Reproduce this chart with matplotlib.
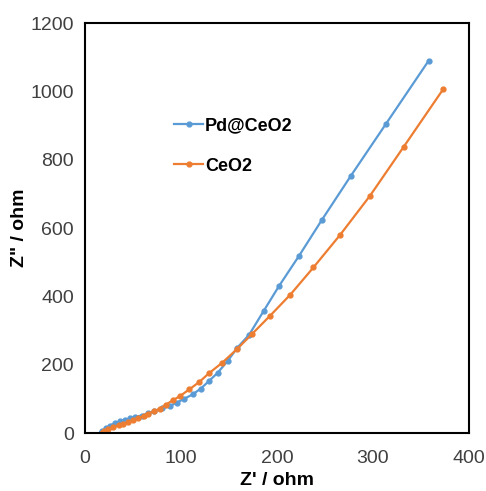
import matplotlib
matplotlib.use("Agg")
import matplotlib.pyplot as plt

plt.rcParams['font.family'] = ['Liberation Sans', 'DejaVu Sans']

# Nyquist data
pd_x = [17, 18, 22, 26, 31, 36.5, 41.7, 47, 52, 59, 66, 72, 80, 88, 95.5, 103.5,
        112, 120.5, 129, 138, 148.6, 158.7, 171, 186, 202, 223, 247, 276.7, 313.5, 358]
pd_y = [0, 5, 15, 22, 29, 34, 39, 43, 48, 51, 58.6, 63.5, 72, 79, 89, 100.6,
        113, 130, 152, 176, 211, 250, 288, 357, 430, 519, 625, 752, 905, 1090]

ce_x = [17.5, 20, 24, 29.5, 35, 40, 45, 50, 55.5, 61, 66, 72, 78, 84, 92, 99,
        108.7, 119, 129.5, 143, 158, 174, 193, 214, 238, 266, 297, 332, 373]
ce_y = [0, 5, 11, 16.6, 22.5, 27, 32, 38, 44, 50, 57, 64.5, 71, 83, 96.7, 108.5,
        128, 149.5, 176, 206, 245, 290, 344, 405.5, 485, 581, 695, 838, 1006]

fig = plt.figure(figsize=(4.86, 4.91), dpi=100)
ax = fig.add_axes([0.175, 0.118, 0.79, 0.835])

ax.plot(pd_x, pd_y, '-o', color='#5B9BD5', lw=1.6, ms=3.5, label='Pd@CeO2')
ax.plot(ce_x, ce_y, '-o', color='#ED7D31', lw=1.6, ms=3.5, label='CeO2')

ax.set_xlim(0, 400)
ax.set_ylim(0, 1200)
ax.set_xticks([0, 100, 200, 300, 400])
ax.set_yticks([0, 200, 400, 600, 800, 1000, 1200])
ax.tick_params(length=0, labelsize=14, colors='#404040', pad=8)
ax.tick_params(axis='x', pad=12)
for s in ax.spines.values():
    s.set_linewidth(1.5)
    s.set_color('black')

ax.set_xlabel("Z' / ohm", fontsize=14, fontweight='bold', labelpad=4)
ax.set_ylabel('Z" / ohm', fontsize=14, fontweight='bold', labelpad=2)

leg = ax.legend(loc='upper left', bbox_to_anchor=(0.19, 0.81), frameon=False,
                prop={'size': 13, 'weight': 'bold'}, handlelength=1.6,
                handletextpad=0.1, labelspacing=1.3)

fig.savefig('out.png', dpi=100)
